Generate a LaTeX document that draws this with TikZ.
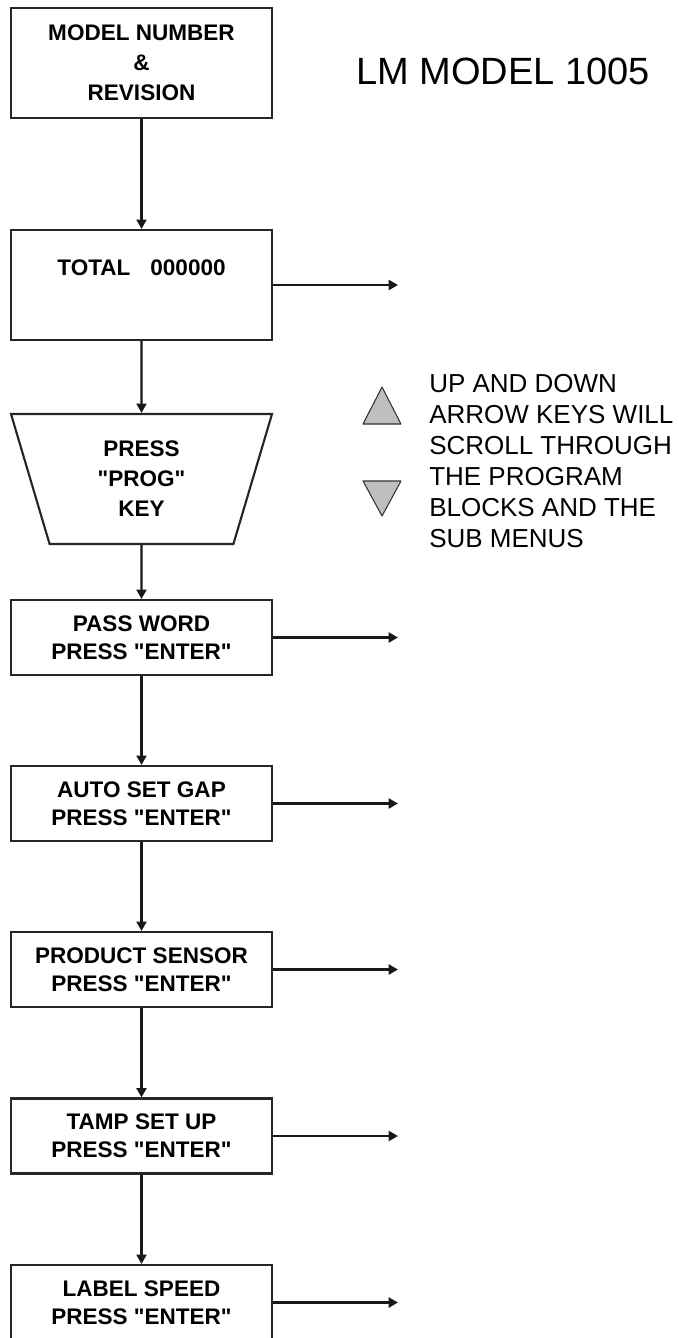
\documentclass[tikz,border=0pt]{standalone}
\usepackage{fontspec}
\setmainfont{Liberation Sans}
\usetikzlibrary{arrows.meta,shapes.geometric}

\begin{document}
\begin{tikzpicture}[x=0.75pt,y=-0.75pt,
  box/.style={draw=black!85,line width=1.6pt,minimum width=195.75pt,minimum height=56.25pt,
    align=center,inner sep=0pt,font=\bfseries\fontsize{16.9}{21}\selectfont},
  tall/.style={minimum height=82.5pt,font=\bfseries\fontsize{16.9}{22.5}\selectfont},
  flow/.style={line width=1.6pt,draw=black!90,-{Triangle[length=7pt,width=7.5pt]}},
  key/.style={fill=black!25,draw=black!80,line width=0.8pt,line join=round}]
\useasboundingbox (0,0) rectangle (678,1338);

\node[box,tall] (model) at (141.5,63) {MODEL NUMBER\\\&\\REVISION};
\node[box,tall] (total) at (141.5,285) {TOTAL\hspace{15pt}000000\\[4pt]\mbox{}};
\node[box,tall,trapezium,trapezium left angle=63,trapezium right angle=63,
  shape border rotate=180,trapezium stretches body,minimum height=97.5pt] (prog) at (141.5,479)
  {PRESS\\\textquotedbl PROG\textquotedbl\\KEY};
\node[box] (pass) at (141.5,637.5) {PASS WORD\\PRESS \textquotedbl ENTER\textquotedbl};
\node[box] (gap) at (141.5,803.5) {AUTO SET GAP\\PRESS \textquotedbl ENTER\textquotedbl};
\node[box] (sensor) at (141.5,969.5) {PRODUCT SENSOR\\PRESS \textquotedbl ENTER\textquotedbl};
\node[box] (tamp) at (141.5,1136) {TAMP SET UP\\PRESS \textquotedbl ENTER\textquotedbl};
\node[box] (speed) at (141.5,1302.5) {LABEL SPEED\\PRESS \textquotedbl ENTER\textquotedbl};

\draw[flow] (model) -- (total);
\draw[flow] (total) -- (prog);
\draw[flow] (prog) -- (pass);
\draw[flow] (pass) -- (gap);
\draw[flow] (gap) -- (sensor);
\draw[flow] (sensor) -- (tamp);
\draw[flow] (tamp) -- (speed);

\coordinate (out) at (398,0);
\foreach \b in {total,pass,gap,sensor,tamp,speed}
  \draw[flow] (\b.east) -- (\b -| out);

\node[anchor=west,inner sep=0pt,font=\fontsize{28.5}{34}\selectfont] (title) at (356,71) {LM MODEL 1005};

\filldraw[key] (363,424) -- (382,387) -- (401,424) -- cycle;
\filldraw[key] (363,481) -- (382,516) -- (401,481) -- cycle;
\node[anchor=west,inner sep=0pt,align=left,font=\fontsize{19.5}{23.25}\selectfont] (hint) at (429,461)
  {UP AND DOWN\\ARROW KEYS WILL\\SCROLL THROUGH\\THE PROGRAM\\BLOCKS AND THE\\SUB MENUS};
\end{tikzpicture}
\end{document}
